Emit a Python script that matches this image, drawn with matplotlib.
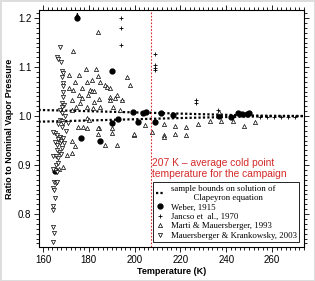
import matplotlib.pyplot as plt
from matplotlib.lines import Line2D
from matplotlib.ticker import MultipleLocator

# sample bounds on the Clapeyron solution
bound_t = [158, 180, 200, 220, 240, 250, 260, 274]
bound_hi = [1.0125, 1.010, 1.0075, 1.005, 1.0025, 1.0012, 1.0005, 1.0002]
bound_lo = [0.9885, 0.991, 0.9935, 0.996, 0.998, 0.999, 0.9995, 0.9998]

# Weber, 1915
weber_t = [175.0, 190.1, 176.6, 184.9, 190.1, 192.8, 199.3, 201.5, 203.7, 205.0,
           208.9, 211.5, 216.8, 236.9, 245.0, 247.0, 248.9, 250.0, 242.0, 165.2]
weber_r = [1.200, 1.092, 0.955, 0.950, 0.985, 0.995, 1.008, 0.988, 1.006, 1.008,
           0.988, 1.006, 1.003, 1.000, 1.006, 1.005, 1.005, 1.006, 0.998, 0.888]

# Jancso et al., 1970
jancso_t = [194.0, 194.0, 194.0, 208.9, 208.9, 208.9, 208.9, 227.0, 227.0, 236.5,
            194.5, 236.5, 255.0, 258.0, 261.0, 264.0, 267.0, 270.0]
jancso_r = [1.200, 1.180, 1.145, 1.127, 1.104, 1.098, 1.094, 1.033, 1.027, 1.012,
            1.033, 1.004, 0.998, 0.999, 0.998, 0.998, 0.999, 0.998]

# Marti & Mauersberger, 1993
marti_t = [173.1, 184.0, 171.4, 175.7, 178.8, 183.1, 174.0, 179.2, 181.4, 184.0,
           171.4, 173.1, 177.0, 180.5, 181.4, 182.3, 184.9, 187.1, 187.9, 189.3,
           196.7, 198.0, 175.7, 177.0, 172.7, 179.7, 184.5, 182.3, 189.3, 192.3,
           189.3, 191.4, 194.5, 176.2, 179.2, 181.8, 174.4, 172.7, 190.6, 193.6,
           184.9, 179.2, 180.1, 175.3, 177.5, 184.5, 199.7, 204.5, 190.1, 212.8,
           217.6, 222.4, 212.8, 212.8, 217.6, 222.4, 227.7, 232.9, 237.7, 243.0,
           247.8, 252.6, 236.9, 207.6, 172.7, 174.0, 170.5, 172.7, 168.7, 187.1,
           192.3, 199.7, 179.2, 184.0, 184.0, 190.1, 167.0]
marti_r = [1.133, 1.171, 1.084, 1.084, 1.096, 1.096, 1.069, 1.069, 1.073, 1.082,
           1.057, 1.053, 1.057, 1.053, 1.051, 1.051, 1.069, 1.063, 1.059, 1.057,
           1.080, 1.063, 1.043, 1.037, 1.033, 1.043, 1.035, 1.029, 1.039, 1.043,
           1.033, 1.037, 1.033, 1.027, 1.018, 1.016, 1.018, 1.012, 1.018, 1.012,
           1.018, 0.996, 0.992, 0.978, 0.978, 0.976, 0.961, 0.982, 0.965, 0.984,
           0.980, 0.977, 0.961, 0.957, 0.963, 0.961, 0.984, 0.990, 0.990, 0.990,
           0.980, 0.988, 1.008, 0.967, 0.949, 0.939, 0.920, 0.924, 0.896, 0.941,
           0.941, 0.963, 0.976, 0.976, 0.963, 0.976, 0.892]

# Mauersberger & Krankowsky, 2003
mk_t = [167.4, 166.1, 166.6, 167.9, 168.3, 168.7, 168.3, 168.7, 168.7, 168.7,
        168.7, 168.3, 169.2, 168.3, 167.4, 168.3, 167.4, 168.3, 168.7, 166.6,
        168.3, 165.2, 166.1, 167.4, 164.4, 165.2, 166.1, 167.4, 168.3, 167.0,
        164.4, 165.7, 166.6, 165.2, 166.1, 164.4, 164.8, 165.7, 166.1, 164.4,
        164.8, 165.2, 164.4, 164.4, 164.4, 164.8, 164.4, 166.6, 167.9, 168.7,
        166.1, 167.9, 169.2, 165.7, 166.6, 170.1, 171.0, 169.6]
mk_r = [1.141, 1.120, 1.116, 1.110, 1.092, 1.088, 1.080, 1.067, 1.061, 1.049,
        1.039, 1.027, 1.022, 1.018, 1.012, 1.006, 0.992, 0.990, 0.986, 0.984,
        0.978, 0.965, 0.961, 0.957, 0.967, 0.947, 0.941, 0.945, 0.935, 0.927,
        0.918, 0.918, 0.914, 0.890, 0.886, 0.892, 0.865, 0.863, 0.865, 0.853,
        0.849, 0.833, 0.816, 0.808, 0.773, 0.761, 0.743, 0.953, 0.950, 0.955,
        0.930, 0.922, 0.945, 0.900, 0.905, 0.970, 0.985, 1.000]

cold_point = 207

plt.rcParams['font.family'] = ['Liberation Sans', 'DejaVu Sans']

fig = plt.figure(figsize=(3.15, 2.81), dpi=100)
fig.patch.set_edgecolor('#dddddd')
fig.patch.set_linewidth(1.0)
ax = fig.add_axes([0.124, 0.121, 0.841, 0.843])

dot = (0, (1, 1))
ax.plot(bound_t, bound_hi, color='black', lw=1.6, ls=dot)
ax.plot(bound_t, bound_lo, color='black', lw=1.6, ls=dot)

ax.plot(weber_t, weber_r, 'o', color='black', ms=3.5, ls='none')
ax.plot(jancso_t, jancso_r, '+', color='black', ms=3.5, mew=0.6, ls='none')
ax.plot(marti_t, marti_r, '^', mfc='white', mec='black', ms=3.0, mew=0.5, ls='none')
ax.plot(mk_t, mk_r, 'v', mfc='white', mec='black', ms=3.0, mew=0.5, ls='none')

# off-scale arrow above the 1.2 Weber point
ax.annotate('', xy=(weber_t[0], 1.2165), xytext=(weber_t[0], 1.203),
            arrowprops=dict(arrowstyle='-|>', color='black', lw=0.8,
                            mutation_scale=5))

ax.axvline(cold_point, color='#d42a2a', lw=0.8, ls=(0, (1.5, 1.5)))
ax.text(207.8, 0.915, '207 K \u2013 average cold point\ntemperature for the campaign',
        color='#d42a2a', fontsize=7.4, va='top', ha='left', linespacing=1.1)

ax.set_xlim(158.25, 274)
ax.set_ylim(0.7327, 1.2163)
ax.xaxis.set_major_locator(MultipleLocator(20))
ax.xaxis.set_minor_locator(MultipleLocator(2))
ax.yaxis.set_major_locator(MultipleLocator(0.1))
ax.yaxis.set_minor_locator(MultipleLocator(0.01))
ax.tick_params(which='both', direction='out', top=True, right=True,
               labelsize=7, width=0.6, pad=2)
ax.tick_params(which='major', length=3.5)
ax.tick_params(which='minor', length=2)
for s in ax.spines.values():
    s.set_linewidth(0.8)

ax.set_xlabel('Temperature (K)', fontsize=6.5, fontweight='bold', labelpad=2)
ax.set_ylabel('Ratio to Nominal Vapor Pressure', fontsize=6.5,
              fontweight='bold', labelpad=3)

handles = [
    Line2D([], [], color='black', lw=1.6, ls=dot),
    Line2D([], [], marker='o', color='black', ms=3.5, ls='none'),
    Line2D([], [], marker='+', color='black', ms=3.5, mew=0.6, ls='none'),
    Line2D([], [], marker='^', mfc='white', mec='black', ms=3.0, mew=0.5, ls='none'),
    Line2D([], [], marker='v', mfc='white', mec='black', ms=3.0, mew=0.5, ls='none'),
]
labels = [
    'sample bounds on solution of\n          Clapeyron equation',
    'Weber, 1915',
    'Jancso et  al., 1970',
    'Marti & Mauersberger, 1993',
    'Mauersberger & Krankowsky, 2003',
]
leg = ax.legend(handles, labels, loc='lower right', bbox_to_anchor=(0.982, 0.02),
                prop={'family': 'Liberation Serif', 'size': 6.3},
                handlelength=1.0, handletextpad=0.7, borderpad=0.3,
                labelspacing=0.15, fancybox=False, framealpha=1,
                edgecolor='black', borderaxespad=0)
leg.get_frame().set_linewidth(0.6)

fig.savefig('out.png', dpi=100)
